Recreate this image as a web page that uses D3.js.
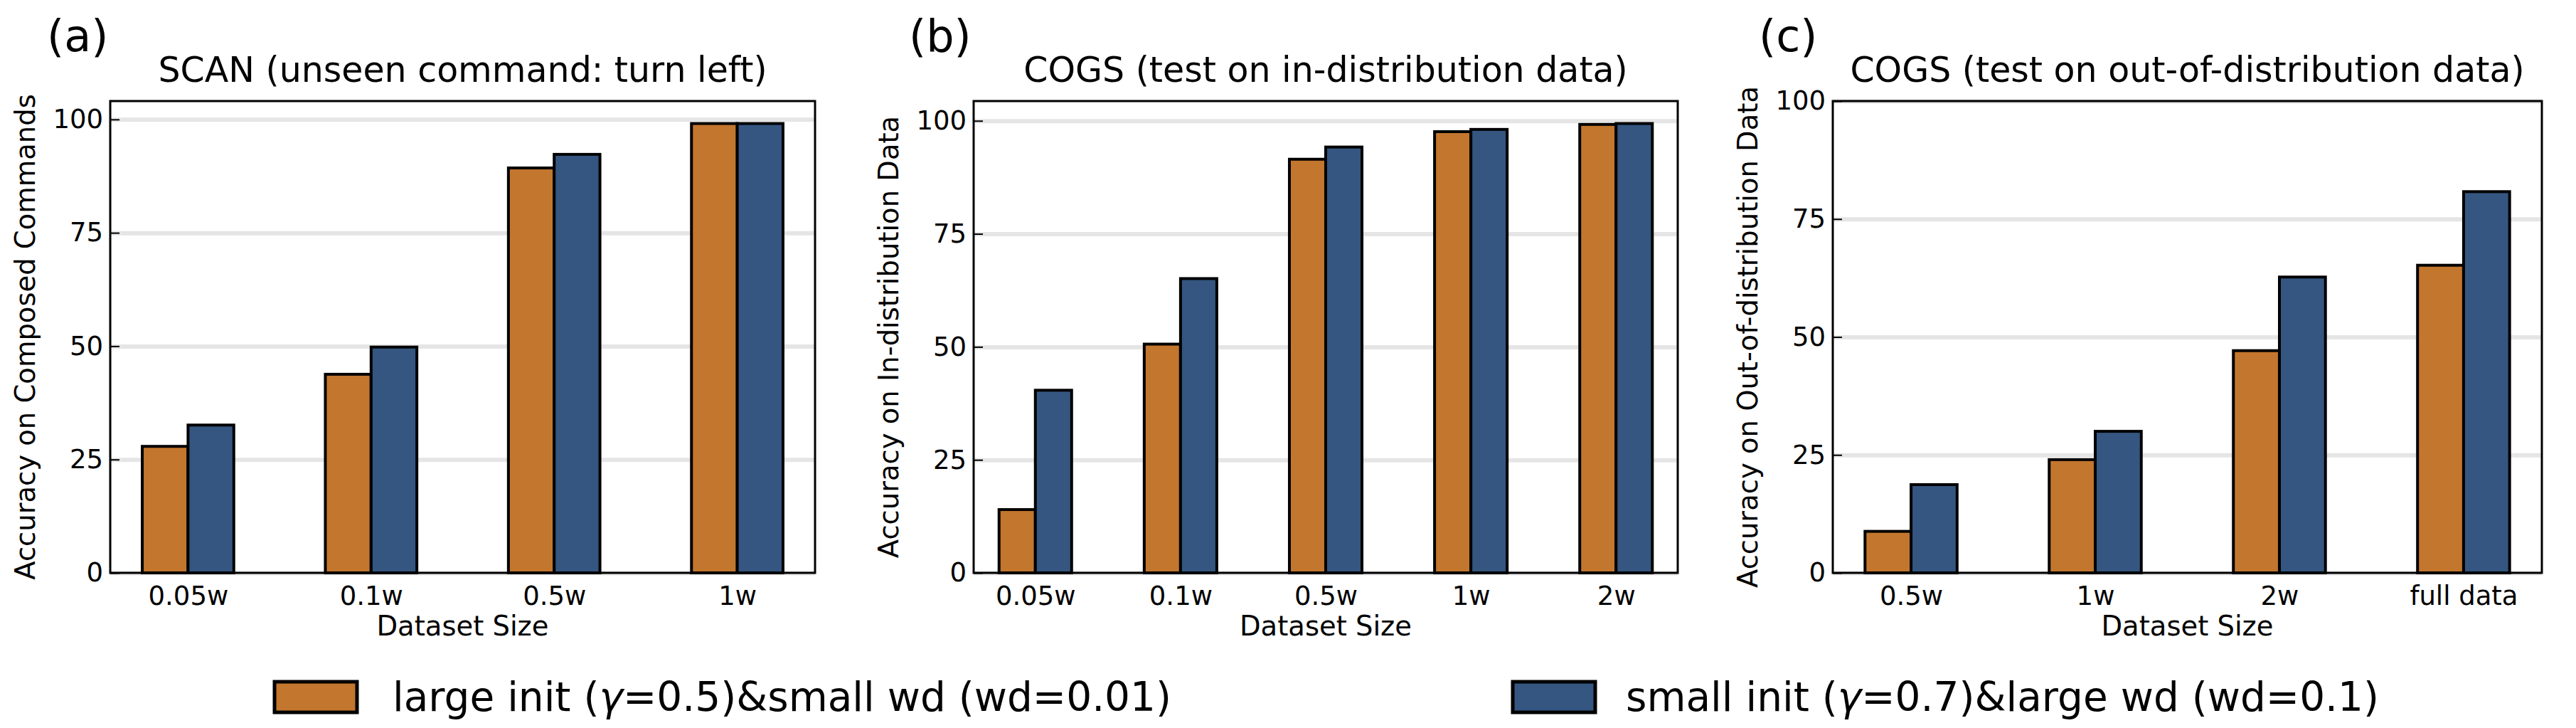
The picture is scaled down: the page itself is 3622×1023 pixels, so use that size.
<!DOCTYPE html>
<html>
<head>
<meta charset="utf-8">
<script src="https://cdn.jsdelivr.net/npm/d3@7"></script>
<style>
  body { margin: 0; background: #fff; }
  text { font-family: "DejaVu Sans", sans-serif; fill: #000; }
</style>
</head>
<body>
<svg id="chart" width="3622" height="1023"></svg>
<script>
// series (legend order)
const SERIES_NAMES = [
    ['large init (', 'γ', '=0.5)&small wd (wd=0.01)'],
    ['small init (', 'γ', '=0.7)&large wd (wd=0.1)']
]
const COLORS = ['#c2762e', '#345680']

// (a) SCAN
const scanSizes = ['0.05w', '0.1w', '0.5w', '1w']
const scanLarge = [27.9, 43.8, 89.3, 99.1]
const scanSmall = [32.6, 49.8, 92.3, 99.1]

// (b) COGS in-distribution
const cogsInSizes = ['0.05w', '0.1w', '0.5w', '1w', '2w']
const cogsInLarge = [14.0, 50.6, 91.5, 97.6, 99.2]
const cogsInSmall = [40.4, 65.1, 94.2, 98.1, 99.4]

// (c) COGS out-of-distribution
const cogsOutSizes = ['0.5w', '1w', '2w', 'full data']
const cogsOutLarge = [8.8, 24.0, 47.1, 65.2]
const cogsOutSmall = [18.7, 30.0, 62.7, 80.8]

const yTicks = [0, 25, 50, 75, 100]

const TOP = 142
const BOTTOM = 805
const BAR_W = 0.25

const panels = [
    { tag: '(a)', tagX: 66, title: 'SCAN (unseen command: turn left)',
      ylabel: 'Accuracy on Composed Commands',
      sizes: scanSizes, series: [scanLarge, scanSmall], left: 155, right: 1146 },
    { tag: '(b)', tagX: 1278, title: 'COGS (test on in-distribution data)',
      ylabel: 'Accuracy on In-distribution Data',
      sizes: cogsInSizes, series: [cogsInLarge, cogsInSmall], left: 1369, right: 2359 },
    { tag: '(c)', tagX: 2473, title: 'COGS (test on out-of-distribution data)',
      ylabel: 'Accuracy on Out-of-distribution Data',
      sizes: cogsOutSizes, series: [cogsOutLarge, cogsOutSmall], left: 2577, right: 3574, yMax: 100 }
]

const svg = d3.select('#chart')

const drawPanel = (p) => {
    const n = p.sizes.length
    const x = d3.scaleLinear()
        .domain([-0.425, n - 1 + 0.425])
        .range([p.left, p.right])
    // matplotlib style autoscale: 5% headroom above the tallest bar
    const yTop = p.yMax ?? d3.max(p.series.flat()) * 1.05
    const y = d3.scaleLinear()
        .domain([0, yTop])
        .range([BOTTOM, TOP])

    const g = svg.append('g')

    // grid
    g.append('g')
        .attr('transform', `translate(${p.left}, 0)`)
        .call(d3.axisLeft(y).tickValues(yTicks).tickSize(-(p.right - p.left)).tickFormat(''))
        .call(a => a.select('.domain').remove())
        .call(a => a.selectAll('line').attr('stroke', '#e5e5e5').attr('stroke-width', 6))

    // bars
    p.series.forEach((vals, s) => {
        g.append('g')
            .selectAll('rect')
            .data(vals)
            .enter()
            .append('rect')
                .attr('x', (d, i) => x(i - BAR_W + s * BAR_W))
                .attr('width', x(BAR_W) - x(0))
                .attr('y', d => y(d))
                .attr('height', d => y(0) - y(d))
                .attr('fill', COLORS[s])
                .attr('stroke', '#000')
                .attr('stroke-width', 4)
    })

    // y axis, inward ticks
    g.append('g')
        .attr('transform', `translate(${p.left}, 0)`)
        .call(d3.axisLeft(y).tickValues(yTicks).tickSize(-13).tickPadding(10))
        .call(a => a.select('.domain').remove())
        .call(a => a.selectAll('line').attr('stroke', '#000').attr('stroke-width', 2))
        .call(a => a.selectAll('text').attr('font-size', 37).attr('font-family', 'DejaVu Sans').attr('fill', '#000'))

    // x axis
    g.append('g')
        .attr('transform', `translate(0, ${BOTTOM})`)
        .call(d3.axisBottom(x).tickValues(d3.range(n)).tickFormat(i => p.sizes[i]).tickSize(0).tickPadding(19))
        .call(a => a.select('.domain').remove())
        .call(a => a.selectAll('text').attr('font-size', 37).attr('font-family', 'DejaVu Sans').attr('fill', '#000'))

    // frame
    g.append('rect')
        .attr('x', p.left)
        .attr('y', TOP)
        .attr('width', p.right - p.left)
        .attr('height', BOTTOM - TOP)
        .attr('fill', 'none')
        .attr('stroke', '#000')
        .attr('stroke-width', 3)

    const cx = (p.left + p.right) / 2

    g.append('text')
        .attr('x', cx)
        .attr('y', 115)
        .attr('text-anchor', 'middle')
        .attr('font-size', 49)
        .text(p.title)

    g.append('text')
        .attr('x', p.tagX)
        .attr('y', 72)
        .attr('font-size', 62)
        .text(p.tag)

    g.append('text')
        .attr('x', cx)
        .attr('y', 893)
        .attr('text-anchor', 'middle')
        .attr('font-size', 38.5)
        .text('Dataset Size')

    g.append('text')
        .attr('transform', `translate(${p.left - 106}, ${(TOP + BOTTOM) / 2}) rotate(-90)`)
        .attr('text-anchor', 'middle')
        .attr('font-size', 38.5)
        .text(p.ylabel)
}

panels.forEach(drawPanel)

// legend
const legendPos = [{ x: 386, text: 552 }, { x: 2127, text: 2286 }]
const legend = svg.append('g')
    .selectAll('g')
    .data(SERIES_NAMES)
    .enter()
    .append('g')

legend.append('rect')
    .attr('x', (d, i) => legendPos[i].x)
    .attr('y', 958)
    .attr('width', 116)
    .attr('height', 43)
    .attr('fill', (d, i) => COLORS[i])
    .attr('stroke', '#000')
    .attr('stroke-width', 5)

const legendText = legend.append('text')
    .attr('x', (d, i) => legendPos[i].text)
    .attr('y', 999)
    .attr('font-size', 56.5)

legendText.append('tspan').text(d => d[0])
legendText.append('tspan').attr('font-style', 'italic').text(d => d[1])
legendText.append('tspan').text(d => d[2])
</script>
</body>
</html>
